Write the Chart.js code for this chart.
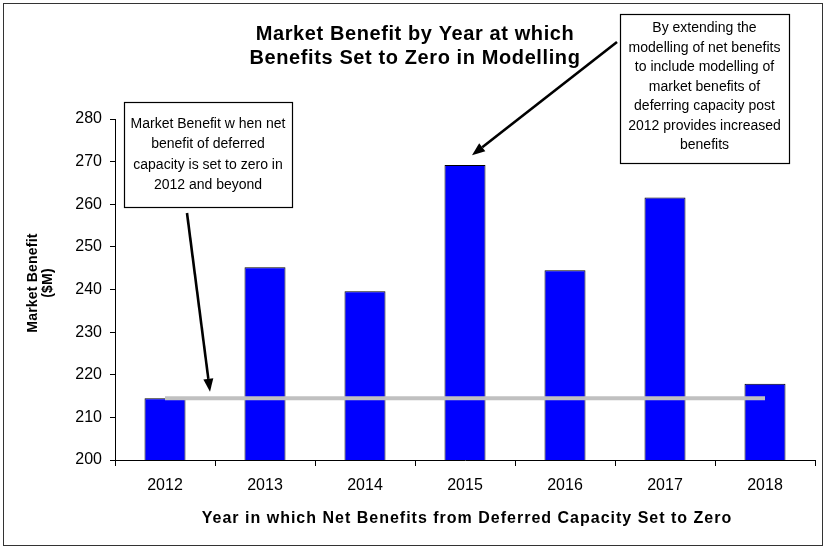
<!DOCTYPE html>
<html>
<head>
<meta charset="utf-8">
<script src="https://cdn.jsdelivr.net/npm/chart.js@4/dist/chart.umd.min.js"></script>
<style>
  html, body { margin: 0; padding: 0; background: #fff; }
  canvas { display: block; }
</style>
</head>
<body>
<canvas id="chart" width="826" height="549"></canvas>
<script>
// Market benefit ($M) by the year from which deferred-capacity benefits are set to zero
const years = ['2012', '2013', '2014', '2015', '2016', '2017', '2018'];
const marketBenefit = [214.5, 245.2, 239.6, 269.2, 244.5, 261.6, 217.9];
// Reference level: benefit when deferred capacity is zeroed from 2012 onwards
const zeroFrom2012 = [214.5, 214.5, 214.5, 214.5, 214.5, 214.5, 214.5];
const yTickValues = [200, 210, 220, 230, 240, 250, 260, 270, 280];

const titleLines = ['Market Benefit by Year at which', 'Benefits Set to Zero in Modelling'];
const yTitleLines = ['Market Benefit', '($M)'];
const xTitle = 'Year in which Net Benefits from Deferred Capacity Set to Zero';
const noteLeft = ['Market Benefit w hen net', 'benefit of deferred', 'capacity is set to zero in', '2012 and beyond'];
const noteRight = ['By extending the', 'modelling of net benefits', 'to include modelling of', 'market benefits of',
                   'deferring capacity post', '2012 provides increased', 'benefits'];

const FONT = "'Liberation Sans', Arial, Helvetica, sans-serif";

function arrow(ctx, x1, y1, x2, y2) {
  const ang = Math.atan2(y2 - y1, x2 - x1);
  const len = 13, half = 5;
  const bx = x2 - len * Math.cos(ang), by = y2 - len * Math.sin(ang);
  ctx.save();
  ctx.strokeStyle = '#000';
  ctx.fillStyle = '#000';
  ctx.lineWidth = 2.6;
  ctx.beginPath();
  ctx.moveTo(x1, y1);
  ctx.lineTo(bx, by);
  ctx.stroke();
  ctx.beginPath();
  ctx.moveTo(x2, y2);
  ctx.lineTo(bx + half * Math.sin(ang), by - half * Math.cos(ang));
  ctx.lineTo(bx - half * Math.sin(ang), by + half * Math.cos(ang));
  ctx.closePath();
  ctx.fill();
  ctx.restore();
}

function noteBox(ctx, left, top, right, bottom, lines, firstY, step) {
  ctx.save();
  ctx.fillStyle = '#fff';
  ctx.fillRect(left, top, right - left, bottom - top);
  ctx.strokeStyle = '#000';
  ctx.lineWidth = 1.2;
  ctx.strokeRect(left + 0.5, top + 0.5, right - left, bottom - top);
  ctx.fillStyle = '#000';
  ctx.font = '14px ' + FONT;
  ctx.textAlign = 'center';
  ctx.textBaseline = 'middle';
  const cx = (left + right) / 2;
  lines.forEach((t, i) => ctx.fillText(t, cx, firstY + i * step));
  ctx.restore();
}

const decorations = {
  id: 'decorations',
  afterDraw(chart) {
    const ctx = chart.ctx;
    const xs = chart.scales.x, ys = chart.scales.y;
    const area = chart.chartArea;

    // outer frame
    ctx.save();
    ctx.strokeStyle = '#333';
    ctx.lineWidth = 1;
    ctx.strokeRect(3.5, 3.5, 819, 542);

    // title
    ctx.fillStyle = '#000';
    ctx.textAlign = 'center';
    ctx.textBaseline = 'alphabetic';
    ctx.font = 'bold 20px ' + FONT;
    ctx.letterSpacing = '0.6px';
    ctx.fillText(titleLines[0], 415, 40);
    ctx.fillText(titleLines[1], 415, 63.5);

    // x axis title
    ctx.font = 'bold 16px ' + FONT;
    ctx.letterSpacing = '1px';
    ctx.fillText(xTitle, (area.left + area.right) / 2 + 2, 522.5);

    // y axis title
    ctx.font = 'bold 14px ' + FONT;
    ctx.letterSpacing = '0.2px';
    ctx.textBaseline = 'middle';
    ctx.translate(33, 283);
    ctx.rotate(-Math.PI / 2);
    ctx.fillText(yTitleLines[0], 0, 0);
    ctx.fillText(yTitleLines[1], 0, 15.5);
    ctx.restore();

    // callouts
    noteBox(ctx, 124, 102, 292, 207, noteLeft, 124, 20.5);
    noteBox(ctx, 620, 14, 789, 163, noteRight, 28.5, 19.5);

    // arrows pointing at the 2012 reference level and the 2015 peak
    const gap = xs.getPixelForValue(1) - xs.getPixelForValue(0);
    arrow(ctx, 187, 213, xs.getPixelForValue(0) + gap * 0.45, ys.getPixelForValue(marketBenefit[0] + 1.5));
    arrow(ctx, 617, 42, xs.getPixelForValue(3) + 7, ys.getPixelForValue(marketBenefit[3] + 2.3));
  }
};

new Chart(document.getElementById('chart'), {
  data: {
    labels: years,
    datasets: [
      {
        type: 'line',
        data: zeroFrom2012,
        borderColor: '#c0c0c0',
        borderWidth: 4,
        pointRadius: 0,
        fill: false,
        order: 0
      },
      {
        type: 'bar',
        data: marketBenefit,
        backgroundColor: '#0000ff',
        borderColor: '#000',
        borderWidth: 1,
        barPercentage: 0.41,
        categoryPercentage: 1,
        order: 1
      }
    ]
  },
  options: {
    responsive: false,
    devicePixelRatio: 1,
    animation: false,
    layout: { padding: { top: 119, right: 11, left: 0, bottom: 0 } },
    plugins: { legend: { display: false }, tooltip: { enabled: false }, title: { display: false } },
    scales: {
      x: {
        type: 'category',
        offset: true,
        grid: { display: true, drawOnChartArea: false, drawTicks: true, tickLength: 6, color: '#000', offset: true },
        border: { display: true, color: '#000', width: 1 },
        ticks: { color: '#000', font: { family: FONT, size: 16 }, padding: 10, maxRotation: 0 },
        afterFit(s) { s.height = 89; }
      },
      y: {
        min: 200,
        max: 280,
        afterBuildTicks(s) { s.ticks = yTickValues.map(v => ({ value: v })); },
        grid: { display: true, drawOnChartArea: false, drawTicks: true, tickLength: 5, color: '#000' },
        border: { display: true, color: '#000', width: 1 },
        ticks: { color: '#000', font: { family: FONT, size: 16 }, padding: 8 },
        afterFit(s) { s.width = 115; }
      }
    }
  },
  plugins: [decorations]
});
</script>
</body>
</html>
